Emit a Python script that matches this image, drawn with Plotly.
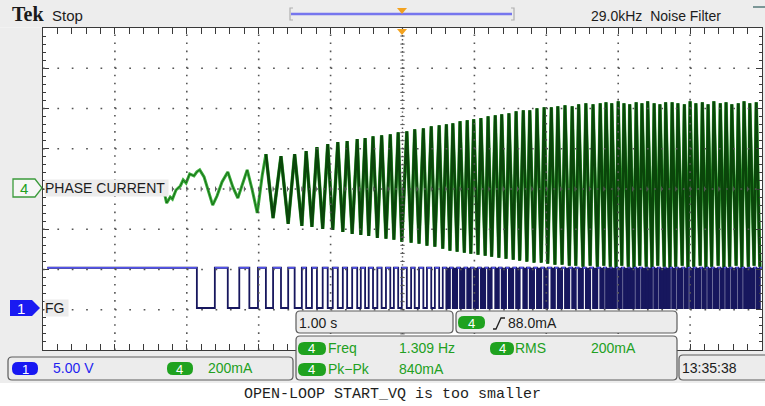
import plotly.graph_objects as go

# ---------------- acquisition data ----------------
# time axis: seconds, trigger at 0 (1.00 s/div, 10 div)
# CH4 phase current in mA (200 mA/div), CH1 FG in volts (5.00 V/div)

# irregular start of the phase current before it locks to FG
early_t = [-3.33, -3.30, -3.28, -3.23, -3.20, -3.15, -3.09, -3.05, -3.01, -2.96,
           -2.90, -2.86, -2.82, -2.76, -2.69, -2.64, -2.58, -2.51, -2.43, -2.36,
           -2.29, -2.23, -2.16, -2.09, -2.02, -1.95]
early_ma = [5, -45, -75, -45, -55, -10, 10, 40, 25, 70,
            60, 80, 90, 55, -20, -85, -40, 30, 80, 5,
            -50, 10, 90, -10, -124, 65]

# FG falling / rising edge times
fg_fall_t = [-2.86, -2.43, -2.13, -1.90, -1.69, -1.50, -1.34, -1.19, -1.04, -0.90,
             -0.77, -0.63, -0.52, -0.41, -0.29, -0.17, -0.06, 0.06, 0.17, 0.29,
             0.40, 0.51, 0.61, 0.70, 0.80, 0.90, 0.99, 1.09, 1.19, 1.29,
             1.38, 1.48, 1.58, 1.68, 1.77, 1.87, 1.97, 2.07, 2.16, 2.26,
             2.36, 2.45, 2.55, 2.65, 2.75, 2.83, 2.91, 3.00, 3.08, 3.16,
             3.25, 3.33, 3.41, 3.50, 3.58, 3.66, 3.75, 3.83, 3.92, 4.00,
             4.08, 4.17, 4.25, 4.33, 4.42, 4.50, 4.58, 4.67, 4.75, 4.83, 4.92]
fg_rise_t = [-2.61, -2.27, -2.01, -1.80, -1.59, -1.40, -1.26, -1.11, -0.97, -0.83,
             -0.70, -0.58, -0.47, -0.35, -0.23, -0.12, -0.01, 0.12, 0.23, 0.34,
             0.45, 0.56, 0.66, 0.76, 0.86, 0.95, 1.05, 1.15, 1.24, 1.34,
             1.44, 1.54, 1.63, 1.73, 1.83, 1.93, 2.02, 2.12, 2.22, 2.32,
             2.41, 2.51, 2.61, 2.71, 2.80, 2.89, 2.97, 3.05, 3.14, 3.22,
             3.30, 3.39, 3.47, 3.55, 3.64, 3.72, 3.80, 3.89, 3.97, 4.05,
             4.14, 4.22, 4.30, 4.39, 4.47, 4.55, 4.64, 4.72, 4.81, 4.89, 4.97]
fg_start_t = -4.94
fg_end_t = 5.0
fg_high_v = 5.0
fg_low_v = 0.0

# phase current peaks (at FG falls) and troughs (at FG rises), from the 4th FG cycle on
peak_ma = [168, 158, 168, 183, 203, 218, 228, 233, 243, 248,
           257, 262, 267, 277, 282, 292, 297, 307, 312, 317,
           322, 332, 337, 342, 347, 356, 361, 366, 371, 381,
           386, 386, 396, 401, 401, 406, 411, 406, 416, 421,
           416, 421, 426, 421, 431, 421, 416, 426, 421, 431,
           421, 416, 426, 426, 421, 416, 431, 421, 426, 416,
           431, 421, 426, 416, 421, 431, 421, 426]
trough_ma = [-149, -178, -188, -193, -203, -208, -218, -228, -233, -238,
             -248, -252, -257, -267, -272, -277, -287, -292, -302, -312,
             -317, -322, -327, -332, -337, -342, -347, -352, -356, -361,
             -366, -371, -371, -376, -381, -381, -386, -386, -391, -386,
             -391, -386, -391, -396, -386, -391, -396, -386, -391, -396,
             -386, -391, -396, -391, -386, -396, -391, -386, -396, -391,
             -386, -396, -391, -386, -396, -391, -386, -391]
LOCK_CYCLE = 3      # first FG cycle the current follows
DENSE_CYCLE = 22    # from here the FG display saturates

# readouts
ch1_scale = "5.00 V"
ch4_scale = "200mA"
timebase = "1.00 s"
trig_level = "88.0mA"
meas_freq = "1.309 Hz"
meas_pkpk = "840mA"
meas_rms = "200mA"
clock = "13:35:38"
caption = "OPEN-LOOP START_VQ is too smaller"

# ---------------- build traces ----------------
dense_t, dense_ma = [], []
for f, r, p, q in zip(fg_fall_t[LOCK_CYCLE:], fg_rise_t[LOCK_CYCLE:], peak_ma, trough_ma):
    dense_t += [f, r]
    dense_ma += [p, q]

fg_t, fg_v = [fg_start_t], [fg_high_v]
for f, r in zip(fg_fall_t, fg_rise_t):
    fg_t += [f, r]
    fg_v += [fg_low_v, fg_high_v]
fg_t.append(fg_end_t)
fg_v.append(fg_v[-1])

hi_t, hi_v = [fg_start_t], [fg_high_v]
for f, r in zip(fg_fall_t, fg_rise_t):
    hi_t += [f, None, r]
    hi_v += [fg_high_v, None, fg_high_v]
hi_t.append(fg_end_t)
hi_v.append(fg_high_v)

fill_t, fill_v = [fg_fall_t[DENSE_CYCLE]], [fg_high_v]
for f, r in zip(fg_fall_t[DENSE_CYCLE:], fg_rise_t[DENSE_CYCLE:]):
    fill_t += [f, r]
    fill_v += [fg_low_v, fg_high_v]
fill_t.append(fg_end_t)
fill_v.append(fg_high_v)

NAVY = "#17175e"
FG_BLUE = "#5252ee"
G_LIGHT = "#3aab3a"
G_DARK = "#0a460a"

fig = go.Figure()
common = dict(mode="lines", showlegend=False, hoverinfo="skip")

# CH1 FG
fig.add_trace(go.Scatter(x=[fg_fall_t[DENSE_CYCLE], fg_end_t], y=[fg_high_v, fg_high_v],
                         line=dict(width=0, color=NAVY), yaxis="y2", **common))
fig.add_trace(go.Scatter(x=fill_t, y=fill_v, line=dict(width=0, color=NAVY, shape="hv"),
                         fill="tonexty", fillcolor=NAVY, yaxis="y2", **common))
fig.add_trace(go.Scatter(x=fg_t, y=fg_v, line=dict(width=1.8, color=NAVY, shape="hv"),
                         yaxis="y2", **common))
fig.add_trace(go.Scatter(x=hi_t, y=hi_v, line=dict(width=1.6, color=FG_BLUE),
                         yaxis="y2", **common))

# CH4 phase current
e_t = early_t + dense_t[:1]
e_ma = early_ma + dense_ma[:1]
fig.add_trace(go.Scatter(x=e_t, y=e_ma, line=dict(width=3.0, color=G_LIGHT), **common))
fig.add_trace(go.Scatter(x=e_t, y=e_ma, line=dict(width=1.0, color="#146e14"), **common))
fig.add_trace(go.Scatter(x=dense_t, y=dense_ma, line=dict(width=3.4, color=G_LIGHT), **common))
fig.add_trace(go.Scatter(x=dense_t, y=dense_ma, line=dict(width=2.7, color=G_DARK), **common))

# ---------------- screen geometry ----------------
W, H = 765, 406
L, R, T, B = 43, 762, 28, 350
MA_RANGE = [-805, 795]
V_RANGE = [-5.22, 34.78]


def px(x):
    return round((x - L) / (R - L), 5)


def py(y):
    return round((B - y) / (B - T), 5)


def poly(points, close=True):
    s = "M " + " L ".join(f"{px(x)},{py(y)}" for x, y in points)
    return s + (" Z" if close else "")


def rrect(x0, y0, x1, y1, r):
    return (f"M {px(x0 + r)},{py(y0)} L {px(x1 - r)},{py(y0)} "
            f"Q {px(x1)},{py(y0)} {px(x1)},{py(y0 + r)} L {px(x1)},{py(y1 - r)} "
            f"Q {px(x1)},{py(y1)} {px(x1 - r)},{py(y1)} L {px(x0 + r)},{py(y1)} "
            f"Q {px(x0)},{py(y1)} {px(x0)},{py(y1 - r)} L {px(x0)},{py(y0 + r)} "
            f"Q {px(x0)},{py(y0)} {px(x0 + r)},{py(y0)} Z")


shapes = []
PANEL = "#ededed"
# surrounding panel
for x0, y0, x1, y1 in [(0, 0, 765, 27.5), (0, 27.5, 43, 383), (762, 27.5, 765, 383),
                       (43, 350, 762, 383)]:
    shapes.append(dict(type="rect", xref="paper", yref="paper", layer="below",
                       x0=px(x0), x1=px(x1), y0=py(y0), y1=py(y1),
                       fillcolor=PANEL, line=dict(width=0)))

# graticule
GRID = "#555555"
for k in range(1, 8):
    yv = MA_RANGE[1] - 200 * k
    if k == 4:
        continue
    shapes.append(dict(type="line", xref="x", yref="y", layer="above", x0=-5, x1=5,
                       y0=yv, y1=yv, line=dict(color=GRID, width=1.7, dash="1.7px,12.68px")))
for k in range(-4, 5):
    if k == 0:
        continue
    shapes.append(dict(type="line", xref="x", yref="y", layer="above", x0=k, x1=k,
                       y0=MA_RANGE[0], y1=MA_RANGE[1],
                       line=dict(color=GRID, width=1.6, dash="1.6px,6.45px")))
# centre cross with fine ticks
yc = MA_RANGE[1] - 800
shapes.append(dict(type="line", xref="x", yref="y", layer="above", x0=0, x1=0,
                   y0=MA_RANGE[0], y1=MA_RANGE[1],
                   line=dict(color=GRID, width=1.4, dash="1.4px,2.62px")))
shapes.append(dict(type="line", xref="x", yref="y", layer="above", x0=-5, x1=5,
                   y0=yc, y1=yc, line=dict(color=GRID, width=1.7, dash="1.7px,5.49px")))
for k in range(-19, 20):
    yv = yc + 40 * k
    shapes.append(dict(type="line", xref="x", yref="y", layer="above", x0=-0.03, x1=0.03,
                       y0=yv, y1=yv, line=dict(color=GRID, width=1)))
for k in range(-24, 25):
    xv = 0.2 * k
    shapes.append(dict(type="line", xref="x", yref="y", layer="above", x0=xv, x1=xv,
                       y0=yc - 12, y1=yc + 12, line=dict(color=GRID, width=1)))

# top record-length bar and trigger markers
shapes.append(dict(type="path", xref="paper", yref="paper",
                   path=poly([(293, 8), (290, 8), (290, 20), (293, 20)], close=False),
                   line=dict(color="#b0b0b0", width=1.2)))
shapes.append(dict(type="path", xref="paper", yref="paper",
                   path=poly([(511, 8), (514, 8), (514, 20), (511, 20)], close=False),
                   line=dict(color="#b0b0b0", width=1.2)))
shapes.append(dict(type="line", xref="paper", yref="paper", x0=px(291), x1=px(512),
                   y0=py(14), y1=py(14), line=dict(color="#7676ee", width=2.4)))
ORANGE = "#f3a21f"
shapes.append(dict(type="path", xref="paper", yref="paper",
                   path=poly([(397, 8), (407, 8), (402, 14)]), fillcolor=ORANGE,
                   line=dict(width=0)))
shapes.append(dict(type="path", xref="paper", yref="paper", layer="above",
                   path=poly([(397, 29), (407, 29), (402, 35)]), fillcolor=ORANGE,
                   line=dict(width=0)))
shapes.append(dict(type="line", xref="paper", yref="paper", x0=px(753), x1=px(765),
                   y0=py(7), y1=py(7), line=dict(color="#557a7a", width=1.5)))

# channel markers on the left
GREEN_TXT = "#22a022"
BLUE_TXT = "#1f1ff0"
shapes.append(dict(type="path", xref="paper", yref="paper",
                   path=poly([(13, 179), (35, 179), (42, 188), (35, 197), (13, 197)]),
                   fillcolor="#f6f6f6", line=dict(color="#3b9b3b", width=1.3)))
shapes.append(dict(type="path", xref="paper", yref="paper",
                   path=poly([(10, 300), (32, 300), (40, 308), (32, 316), (10, 316)]),
                   fillcolor="#1a1af2", line=dict(width=0)))

# readout boxes
BOX_LINE = dict(color="#5c5c5c", width=1.2)
for x0, y0, x1, y1 in [(8, 357, 293, 380), (296, 311, 453, 333), (456, 311, 677, 333),
                       (296, 336, 677, 380), (679, 355, 770, 380)]:
    shapes.append(dict(type="path", xref="paper", yref="paper", layer="above",
                       path=rrect(x0, y0, x1, y1, 4), fillcolor="#ececec", line=BOX_LINE))

BADGE_G = "#1fa21f"
BADGE_B = "#1717f2"
badges = [(12, 362, 38, 375, BADGE_B, "1"), (167, 362, 193, 375, BADGE_G, "4"),
          (458, 316, 485, 329, BADGE_G, "4"), (298, 342, 326, 355, BADGE_G, "4"),
          (490, 342, 514, 355, BADGE_G, "4"), (298, 363, 326, 376, BADGE_G, "4")]
for x0, y0, x1, y1, c, _ in badges:
    shapes.append(dict(type="path", xref="paper", yref="paper", layer="above",
                       path=rrect(x0, y0, x1, y1, 6), fillcolor=c, line=dict(width=0)))

# rising-edge trigger symbol
shapes.append(dict(type="path", xref="paper", yref="paper", layer="above",
                   path=poly([(493, 329), (496, 329), (501, 318), (505, 318)], close=False),
                   line=dict(color="#202020", width=1.3)))

# ---------------- text ----------------
UI_FONT = "Liberation Sans, Arial, sans-serif"
UI_SIZE = 14
ann = []


def label(x, y, text, color="#1c1c1c", size=UI_SIZE, family=UI_FONT, anchor="left", bg=None):
    d = dict(x=px(x), y=py(y), xref="paper", yref="paper", text=text, showarrow=False,
             xanchor=anchor, yanchor="middle", borderpad=0,
             font=dict(family=family, size=size, color=color))
    if bg:
        d["bgcolor"] = bg
    ann.append(d)


label(11, 14, "<b>Tek</b>", size=20, family="Liberation Serif, serif", color="#1a1a1a")
label(51, 16, "Stop", size=15)
label(590, 16, "29.0kHz  Noise Filter")

label(24, 188.5, "4", color=GREEN_TXT, size=15, anchor="center")
label(44, 188, "PHASE CURRENT ", bg="#ececec")
label(21, 308.5, "1", color="white", size=15, anchor="center")
label(44, 308, "FG ", bg="#ececec")

for x0, y0, x1, y1, _, t in badges:
    label((x0 + x1) / 2, (y0 + y1) / 2 + 0.5, t, color="white", size=13, anchor="center")

label(52, 368.5, ch1_scale, color=BLUE_TXT)
label(207, 368.5, ch4_scale, color=GREEN_TXT)
label(298, 322.5, timebase)
label(507, 322.5, trig_level)
label(327, 348, "Freq", color=GREEN_TXT)
label(398, 348, meas_freq, color=GREEN_TXT)
label(514, 348, "RMS", color=GREEN_TXT)
label(590, 348, meas_rms, color=GREEN_TXT)
label(327, 369, "Pk\u2212Pk", color=GREEN_TXT)
label(398, 369, meas_pkpk, color=GREEN_TXT)
label(681, 368, clock)

label(392, 395, caption, size=15, family="Liberation Mono, DejaVu Sans Mono, monospace",
      color="#1e1e1e", anchor="center")

# ---------------- axes ----------------
TICK = "#3a3a3a"
axis_common = dict(showgrid=False, zeroline=False, showticklabels=False, showline=True,
                   linecolor=TICK, linewidth=1.2, mirror="allticks", ticks="inside",
                   tickcolor=TICK, tickwidth=1, fixedrange=True)
fig.update_layout(
    width=W, height=H, autosize=False,
    margin=dict(l=L, r=W - R, t=T, b=H - B, pad=0),
    paper_bgcolor="white", plot_bgcolor="white",
    xaxis=dict(range=[-5, 5], dtick=1, tick0=0, ticklen=6,
               minor=dict(dtick=0.2, tick0=0, ticklen=3, ticks="inside", tickcolor=TICK),
               **axis_common),
    yaxis=dict(range=MA_RANGE, dtick=200, tick0=-5, ticklen=6,
               minor=dict(dtick=40, tick0=-5, ticklen=3, ticks="inside", tickcolor=TICK),
               **axis_common),
    yaxis2=dict(range=V_RANGE, overlaying="y", visible=False, fixedrange=True),
    shapes=shapes, annotations=ann, showlegend=False,
)

fig.write_html("out.html", config={"displayModeBar": False, "staticPlot": True})
